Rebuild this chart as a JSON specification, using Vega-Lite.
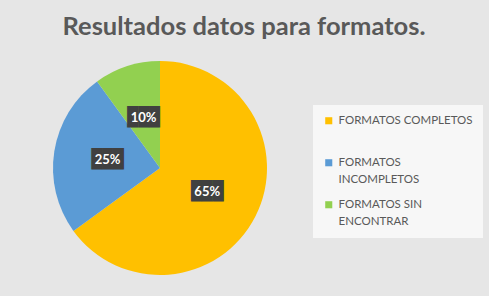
{
  "$schema": "https://vega.github.io/schema/vega-lite/v6.json",
  "autosize": "none",
  "padding": {"left": 0, "top": 50, "right": 169, "bottom": 10},
  "width": 320,
  "height": 236,
  "background": "#e6e6e6",
  "title": {
    "text": "Resultados datos para formatos.",
    "font": "Lato",
    "fontSize": 25.5,
    "fontWeight": "bold",
    "color": "#595959",
    "anchor": "middle",
    "dx": 84,
    "offset": 10
  },
  "config": {"view": {"stroke": null}},
  "data": {
    "values": [
      {"categoria": "FORMATOS COMPLETOS", "porcentaje": 65, "orden": 1, "etiqueta": "65%"},
      {"categoria": "FORMATOS INCOMPLETOS", "porcentaje": 25, "orden": 2, "etiqueta": "25%"},
      {"categoria": "FORMATOS SIN ENCONTRAR", "porcentaje": 10, "orden": 3, "etiqueta": "10%"}
    ]
  },
  "encoding": {
    "theta": {"field": "porcentaje", "type": "quantitative", "stack": true},
    "order": {"field": "orden", "type": "quantitative"}
  },
  "layer": [
    {
      "mark": {"type": "arc", "outerRadius": 107},
      "encoding": {
        "color": {
          "field": "categoria",
          "type": "nominal",
          "scale": {
            "domain": ["FORMATOS COMPLETOS", "FORMATOS INCOMPLETOS", "FORMATOS SIN ENCONTRAR"],
            "range": ["#FFC000", "#5B9BD5", "#92D050"]
          },
          "legend": {
            "title": null,
            "orient": "none",
            "legendX": 313,
            "legendY": 55,
            "symbolType": "square",
            "symbolSize": 50,
            "symbolStrokeWidth": 0,
            "labelFont": "Lato",
            "labelFontSize": 11.5,
            "labelColor": "#595959",
            "labelLimit": 200,
            "labelOffset": 4,
            "labelExpr": "datum.label == 'FORMATOS INCOMPLETOS' ? ['FORMATOS', 'INCOMPLETOS'] : datum.label == 'FORMATOS SIN ENCONTRAR' ? ['FORMATOS SIN', 'ENCONTRAR'] : ['FORMATOS COMPLETOS', '']",
            "fillColor": "#f7f7f7",
            "padding": 10,
            "rowPadding": 12,
            "encode": {"labels": {"update": {"lineHeight": {"value": 17}}}}
          }
        }
      }
    },
    {
      "mark": {
        "type": "text",
        "radius": 53,
        "font": "DejaVu Sans Mono",
        "fontSize": 18,
        "baseline": "middle",
        "fill": "#404040"
      },
      "encoding": {"text": {"value": "███"}}
    },
    {
      "mark": {
        "type": "text",
        "radius": 53,
        "font": "Lato",
        "fontSize": 13,
        "fontWeight": "bold",
        "baseline": "middle",
        "fill": "#ffffff"
      },
      "encoding": {"text": {"field": "etiqueta", "type": "nominal"}}
    }
  ]
}
